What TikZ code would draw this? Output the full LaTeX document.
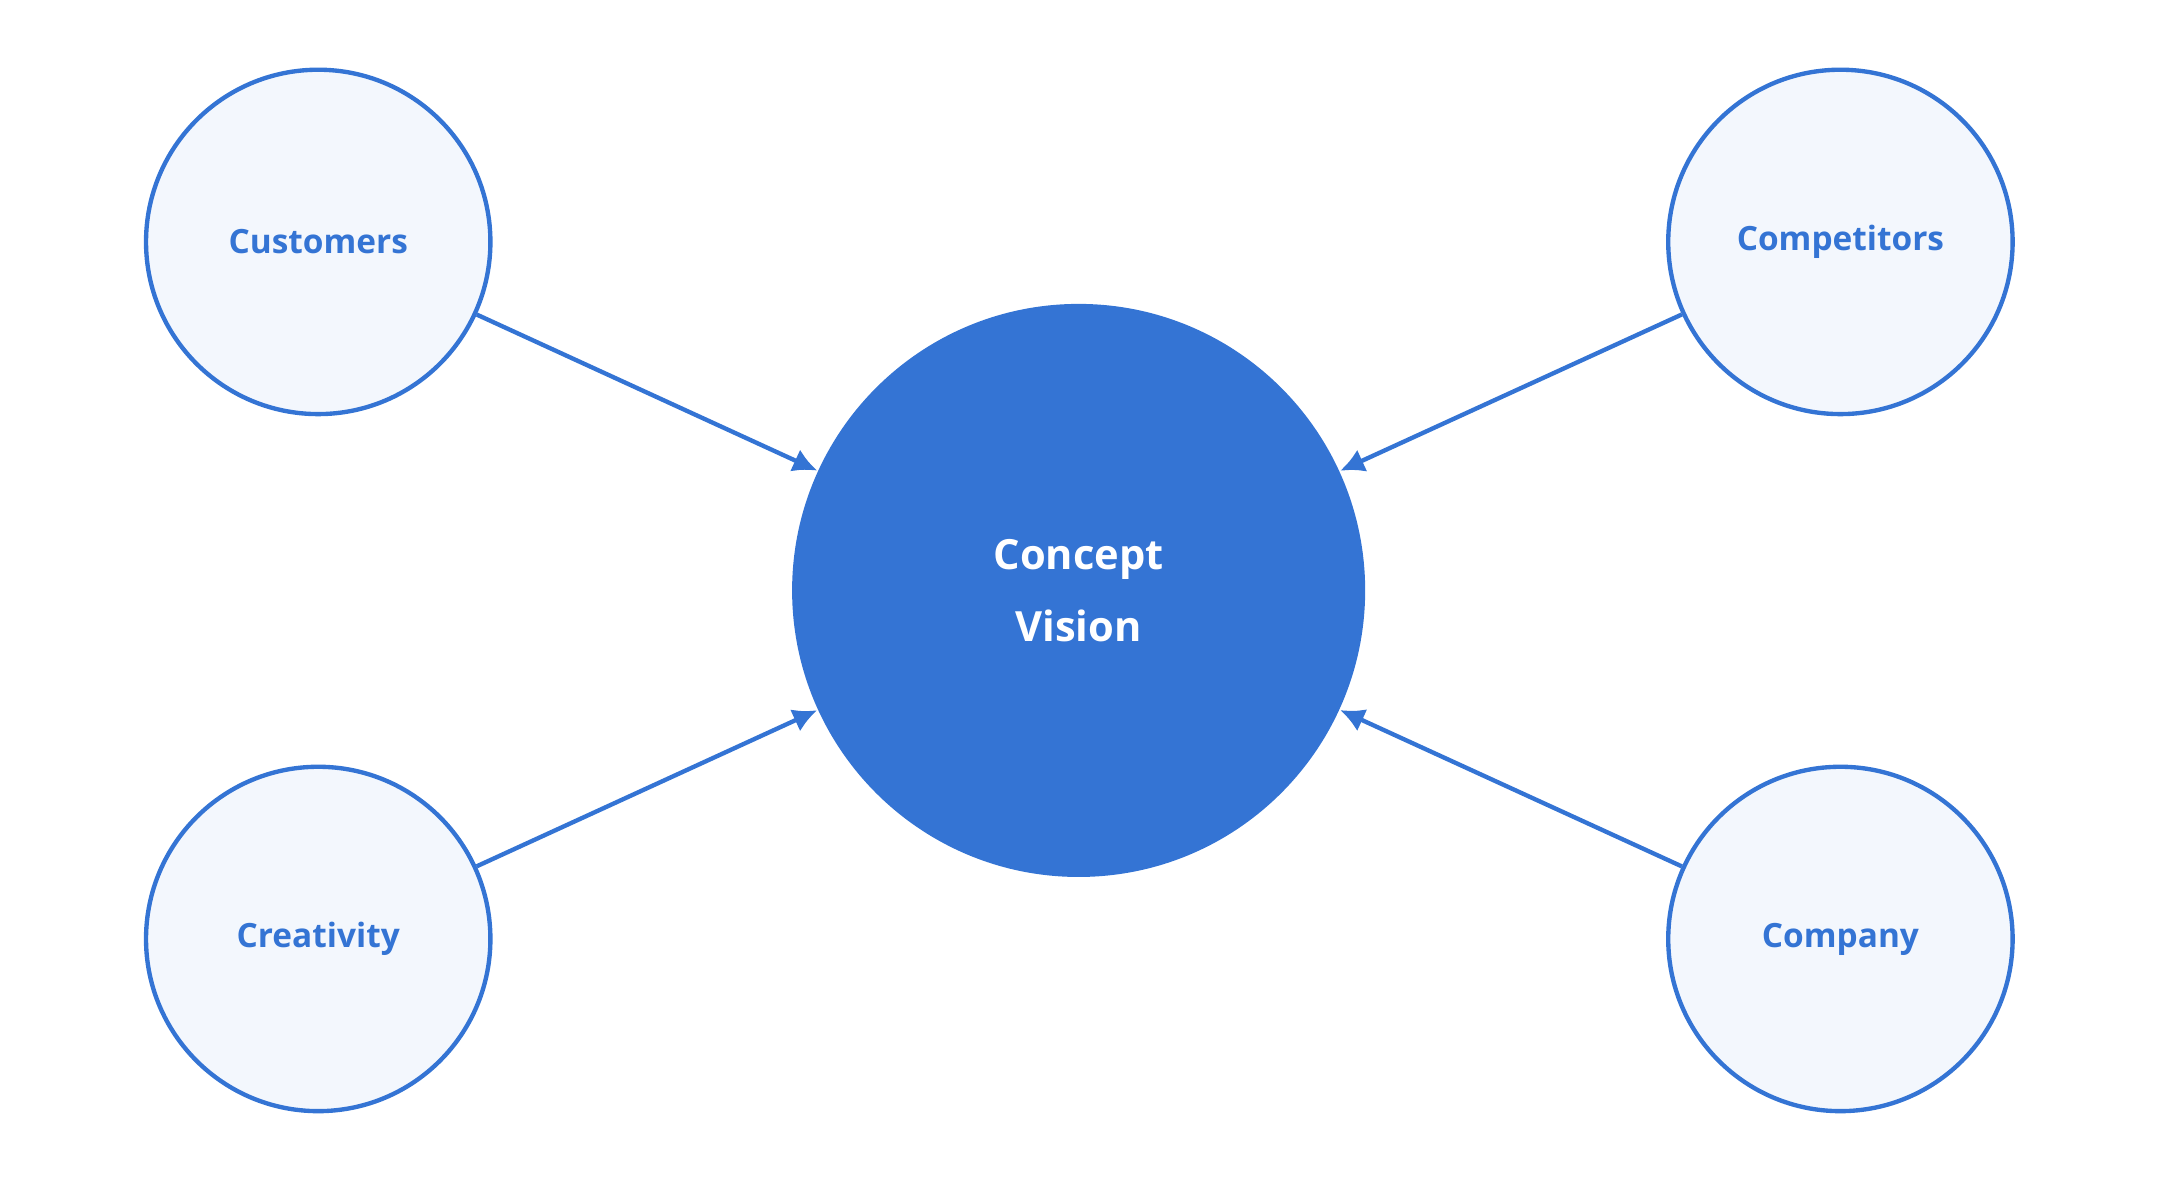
\documentclass[tikz,border=0pt]{standalone}
\usepackage{fontspec}
\setmainfont{Open Sans}
\usetikzlibrary{arrows.meta}
\definecolor{visionblue}{HTML}{3474D4}
\definecolor{palefill}{HTML}{F3F7FD}
\tikzstyle{source} = [circle, minimum size=2.5cm, inner sep=0pt, draw=visionblue, line width=0.9pt, fill=palefill, text=visionblue, font=\fontsize{6.9}{8}\selectfont\bfseries]
\tikzstyle{core} = [circle, minimum size=4.16cm, inner sep=0pt, fill=visionblue, text=white, align=center, font=\fontsize{8.6}{15}\selectfont\bfseries]
\tikzstyle{arrow} = [visionblue, line width=0.9pt, -{Latex[length=5pt,width=5pt]}]

\begin{document}
\begin{tikzpicture}
\useasboundingbox (0,0) rectangle (15.68,8.566);

% central concept
\node[core] (vision) at (7.83,4.28) {Concept\\Vision};

% the four sources
\node[source] (customers) at (2.31,6.81) {Customers};
\node[source] (competitors) at (13.36,6.81) {Competitors};
\node[source] (creativity) at (2.31,1.75) {Creativity};
\node[source] (company) at (13.36,1.75) {Company};

% arrows into the vision
\draw[arrow] (customers) -- (vision);
\draw[arrow] (competitors) -- (vision);
\draw[arrow] (creativity) -- (vision);
\draw[arrow] (company) -- (vision);

\end{tikzpicture}
\end{document}
